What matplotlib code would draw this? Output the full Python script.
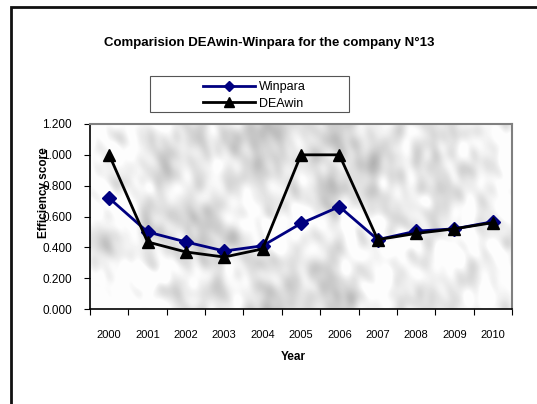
import numpy as np
import matplotlib
matplotlib.use("Agg")
import matplotlib.pyplot as plt
from matplotlib.patches import Rectangle
from matplotlib.lines import Line2D

years = ['2000', '2001', '2002', '2003', '2004', '2005', '2006', '2007', '2008', '2009', '2010']
winpara = [0.719, 0.500, 0.435, 0.376, 0.410, 0.555, 0.664, 0.450, 0.505, 0.520, 0.566]
deawin = [1.000, 0.435, 0.370, 0.337, 0.390, 1.000, 1.000, 0.450, 0.490, 0.520, 0.560]
yticks = [0.0, 0.2, 0.4, 0.6, 0.8, 1.0, 1.2]

plt.rcParams['font.family'] = ['Liberation Sans', 'DejaVu Sans']

fig = plt.figure(figsize=(5.37, 4.04), dpi=100)
fig.patch.set_facecolor('white')

# outer chart frame (only left and top edges fall inside the picture)
fig.patches.append(Rectangle((11 / 537, -0.2), 1.2, (404 - 7) / 404 + 0.2,
                             transform=fig.transFigure, fill=False,
                             edgecolor='#111111', linewidth=2.0))

ax = fig.add_axes([90 / 537, 95 / 404, 422 / 537, 185 / 404])

# marble-like background texture
rng = np.random.default_rng(11)
h, w = 185, 422
fy = np.fft.fftfreq(h)[:, None]
fx = np.fft.fftfreq(w)[None, :]
tex = np.zeros((h, w))
for scale, amp in [(5, 1.0), (14, 0.7), (40, 0.4)]:
    noise = rng.normal(size=(h, w))
    u = fx - 0.3 * fy
    v = fy + 0.3 * fx
    filt = np.exp(-((u * scale * 0.8) ** 2 + (v * scale * 1.2) ** 2) * 20)
    layer = np.real(np.fft.ifft2(np.fft.fft2(noise) * filt))
    tex += amp * layer / layer.std()
tex = (tex - tex.mean()) / tex.std()
tex = 0.92 - 0.07 * tex
tex = np.clip(tex, 0.66, 0.99)
ax.imshow(tex, cmap='gray', vmin=0, vmax=1, aspect='auto',
          extent=[-0.5, len(years) - 0.5, 0, 1.2], zorder=0, interpolation='bilinear')

x = np.arange(len(years))
ax.plot(x, winpara, color='#000080', linewidth=2.0, marker='D', markersize=7,
        label='Winpara', zorder=3)
ax.plot(x, deawin, color='black', linewidth=2.0, marker='^', markersize=9,
        label='DEAwin', zorder=4)

ax.set_xlim(-0.5, len(years) - 0.5)
ax.set_ylim(0, 1.2)
ax.set_yticks(yticks)
ax.set_yticklabels(['%.3f' % v for v in yticks], fontsize=8.5)
ax.set_xticks(np.arange(-0.5, len(years), 1.0))
ax.set_xticklabels([])
ax.set_xticks(x, minor=True)
ax.set_xticklabels(years, minor=True, fontsize=8)
ax.tick_params(axis='x', which='minor', length=0, pad=15)
ax.tick_params(axis='x', which='major', length=4, direction='out')
ax.tick_params(axis='y', length=4, direction='out', pad=9)

for s in ['left', 'bottom']:
    ax.spines[s].set_color('black')
    ax.spines[s].set_linewidth(1.2)
for s in ['top', 'right']:
    ax.spines[s].set_color('#808080')
    ax.spines[s].set_linewidth(1.5)

fig.text(44 / 537, 1 - 193 / 404, 'Efficiency score', rotation=90, fontsize=8.5,
         fontweight='bold', ha='center', va='center')
fig.text(293 / 537, 1 - 357 / 404, 'Year', fontsize=8.5, fontweight='bold',
         ha='center', va='center')
fig.text(269 / 537, 1 - 43 / 404, 'Comparision DEAwin-Winpara for the company N°13',
         fontsize=9.5, fontweight='bold', ha='center', va='center')

# legend box drawn wider than its content, as in the source chart
fig.patches.append(Rectangle((150 / 537, 1 - 112 / 404), 199 / 537, 36 / 404,
                             transform=fig.transFigure, facecolor='white',
                             edgecolor='#555555', linewidth=0.8, zorder=5))
handles = [Line2D([], [], color='#000080', linewidth=2.0, marker='D', markersize=5.5),
           Line2D([], [], color='black', linewidth=2.0, marker='^', markersize=6.5)]
leg = fig.legend(handles, ['Winpara', 'DEAwin'], loc='center left',
                 bbox_to_anchor=(203 / 537, 1 - 95.5 / 404), fontsize=9,
                 frameon=False, handlelength=4.15, handletextpad=0.32,
                 labelspacing=0.34, borderpad=0, borderaxespad=0)
leg.set_zorder(6)

fig.savefig('out.png', dpi=100)
